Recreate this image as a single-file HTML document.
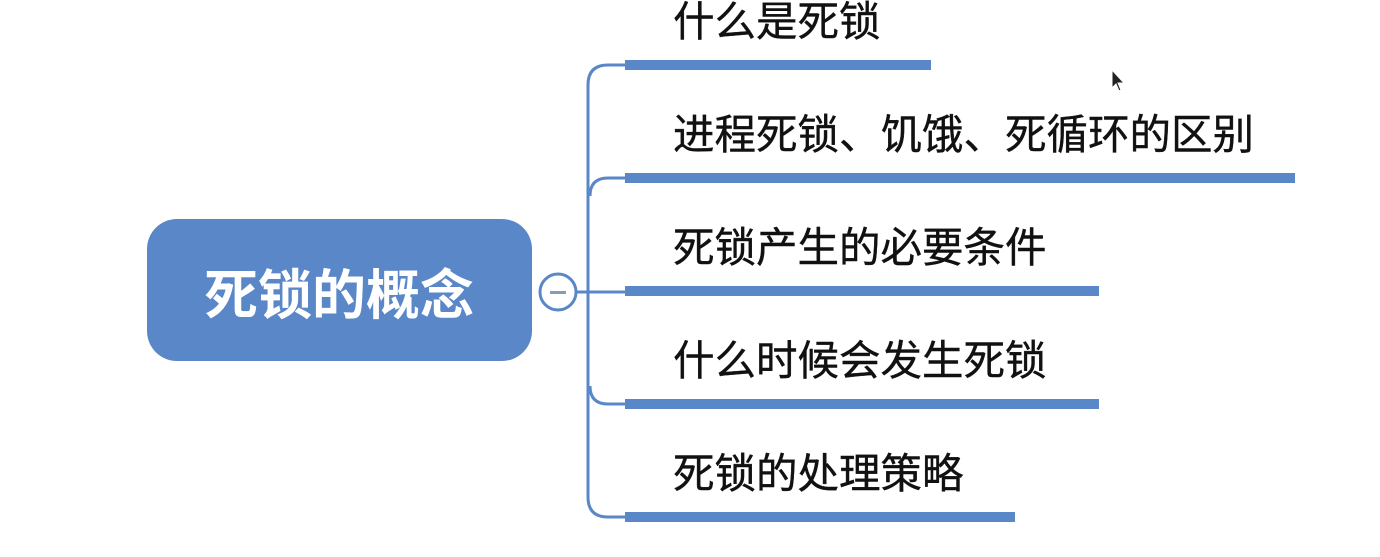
<!DOCTYPE html>
<html><head><meta charset="utf-8"><style>
html,body{margin:0;padding:0;background:#fff;}
body{width:1380px;height:557px;position:relative;overflow:hidden;font-family:"Liberation Sans","Noto Sans CJK SC",sans-serif;}
.t{position:absolute;left:673px;font-size:41.5px;color:#111;line-height:50px;white-space:nowrap;-webkit-text-stroke:0.4px #111;}
</style></head><body>
<svg width="1380" height="557" style="position:absolute;left:0;top:0">
<g fill="none" stroke="#5a87c8" stroke-width="3">
<path d="M626 65 H608 Q588 65 588 85 V497 Q588 517 608 517 H626"/>
<path d="M626 178 H608 Q590 178 590 196"/>
<path d="M626 404 H608 Q590 404 590 386"/>
<path d="M576 292 H626"/>
</g>
<g fill="#5a87c8">
<rect x="625" y="60" width="306" height="10"/>
<rect x="625" y="173" width="670" height="10"/>
<rect x="625" y="286" width="474" height="10"/>
<rect x="625" y="399" width="474" height="10"/>
<rect x="625" y="512" width="390" height="10"/>
<rect x="147" y="219" width="385" height="142" rx="30"/>
</g>
<circle cx="558" cy="292" r="18" fill="#fff" stroke="#5a87c8" stroke-width="3"/>
<rect x="550" y="291" width="16" height="3" fill="#8a9bb8"/>
<path d="M1112 70 L1112 88 L1116 84 L1119 91 L1121 90 L1118 83 L1124 83 Z" fill="#222" stroke="#fff" stroke-width="1"/>
<text x="339" y="314" font-size="54" font-weight="bold" fill="#fff" text-anchor="middle" font-family="Liberation Sans, Noto Sans CJK SC, sans-serif">死锁的概念</text>
</svg>
<div class="t" style="top:-3px">什么是死锁</div>
<div class="t" style="top:110px">进程死锁、饥饿、死循环的区别</div>
<div class="t" style="top:223px">死锁产生的必要条件</div>
<div class="t" style="top:336px">什么时候会发生死锁</div>
<div class="t" style="top:449px">死锁的处理策略</div>
</body></html>
